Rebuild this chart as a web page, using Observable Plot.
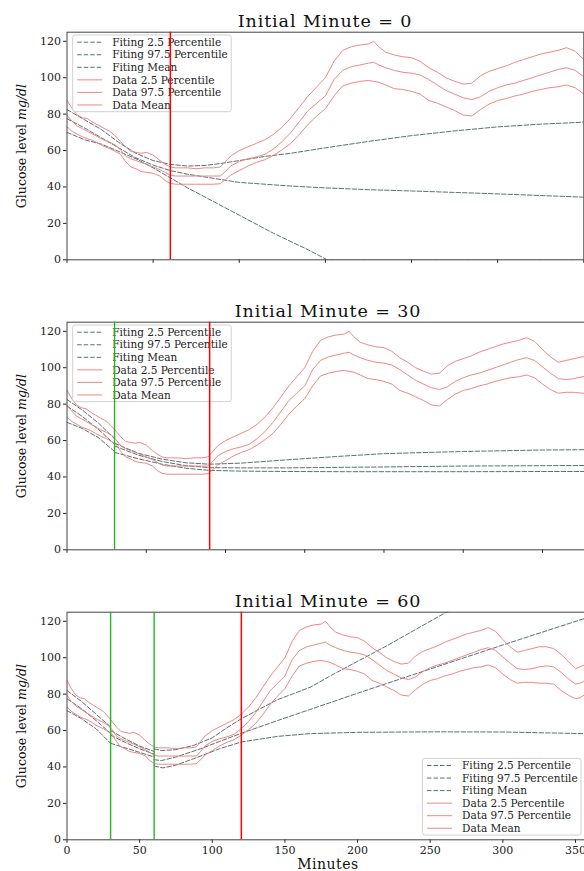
<!DOCTYPE html>
<html><head><meta charset="utf-8">
<script src="https://cdn.jsdelivr.net/npm/d3@7"></script>
<script src="https://cdn.jsdelivr.net/npm/@observablehq/plot@0.6"></script>
<style>
body{margin:0;background:#fff;overflow:hidden;}
.panel{width:584px;overflow:hidden;position:relative;}
svg{display:block;}
</style></head><body><div id="root"></div>
<script>
// ---- measured data (minutes, glucose mg/dl) ----
const minutes = [0,3,6,9,12,15,18,21,25,28,31,34,37,40,43,46,50,54,57,60,63,66,70,75,80,85,89,92,95,100,105,110,115,120,125,130,135,140,145,150,155,160,165,170,175,178,181,185,190,195,200,205,210,215,220,225,230,235,240,245,250,255,260,265,270,275,280,285,290,295,300,305,310,315,320,325,330,335,340,345,350,353,356];
const dataHi = [87.6,83,79.5,78,77.5,75.5,74,72.5,70.5,68,65,62,59.5,59,58.5,59,57.5,54.5,52.5,51,50.5,50.5,50.5,50,50.5,50.5,51,54,57,60,62,64,66,69,73,78,84,90,95,100,109,115,117,118,118.5,120,117,114,112.5,111.5,111,109,105.5,103,100,98,96.5,97,101,103.5,105,106.5,108.5,110,111.5,113,114,115,116.5,114.5,110,106,103,104,105,106,106,105,102,98,94,95,96];
const dataMean = [79.5,76,73.5,72,70.5,69,67.5,66,64.5,63,60.5,57,55.5,54.5,53.5,52.5,51,49.5,48,46.5,46,46,46,46,46,46,46,48.5,51.5,54,55.5,56.5,58,61,65,70,76,82,86,90,99,104,106,107,108,108.5,107,105.5,104,103,102.5,101.5,99,96,93,91,89,88,89.5,92.5,94.5,96,97,98.5,100,101.5,103,104.5,105.5,104,100.5,97,94,93.5,94,95,95.5,95,92,88.5,85.5,86,87];
const dataLo = [73,70.5,69,67.5,66.5,65.5,64,62.5,61,59.5,58,54,51,50,48.5,48,47.5,46,43.5,42,41.5,41.5,41.5,41.5,41.5,41.5,41.8,44,46.5,49,51.5,53.5,55,57.5,60.5,64,69,74.5,79,83,90,95.5,97,98,98.5,98,97.5,96,94,93.5,92.5,91,87.5,86,84,82,79.5,79,82.5,85.5,87.5,88.5,90,91,92.5,93.5,94.5,95,96,94.5,91,88,86,86.5,86.5,86,86,85.5,82,79.5,77.5,78,79.5];

// Panel 1 fits (initial minute 0)
const p1FitMin = [0,10,20,30,40,50,60,70,80,90,100,115,130,150,175,200,225,250,275,300];
const p1FitHi = [82.5,77,71.5,64.5,58.5,54.5,52.4,51.5,51.8,53,54.5,56.8,58.5,61.5,65,68.2,70.8,73,74.5,75.6];
const p1FitMean = [77.5,72.5,67,61.5,56,52,49,47,45.5,44,42.5,41.5,40.5,39.5,38.5,37.8,37,36.2,35.3,34.4];
const p1FitLoMin = [0,10,20,30,40,50,60,70,80,90,100,110,120,130,140,151,300];
const p1FitLo = [70,66,63.5,59.5,55.5,50.5,45,39.5,34.5,29.5,24.5,19.5,14.5,10,5.5,0,0];

// Panel 2 fits (initial minute 30)
const p2AMin = [0,10,20,30];
const p2AHi = [82.5,76.5,69.5,61];
const p2AMean = [79,73,66,58];
const p2ALo = [70,66.5,61.5,54];
const p2BMin = [30,45,60,75,90,110,140,175,200,250,300,330];
const p2BHi = [58.5,53,49.8,47.8,47,47.6,49.5,51.5,52.8,54,54.8,55];
const p2BMean = [57,52,48.5,46.2,45.1,45,45,45.3,45.5,46,46.2,46.3];
const p2BLo = [53.5,50,47,44.8,43.6,43.2,43,42.9,42.9,42.9,43,43];

// Panel 3 fits (initial minute 60)
const p3AMin = [0,10,20,30];
const p3AHi = [82,76,69,62];
const p3AMean = [77.5,72,65.5,58.5];
const p3ALo = [71,66.5,61,53];
const p3BMin = [30,40,50,60];
const p3BHi = [60,55.5,51.5,48.5];
const p3BMean = [57.5,53.5,50,47];
const p3BLo = [53,50.5,48,45.5];
const p3CHiMin = [60,65,75,87,100,110,120,133,145,156,168,180,200,220,240,260,270];
const p3CHi = [50,49,49.5,51.8,56,61.5,66.5,72,77,80.3,84,89.5,98,106.5,115.5,124.5,129];
const p3CMeanMin = [60,65,75,92,105,120,145,167,200,250,300,356];
const p3CMean = [44,43.5,45.5,50,54,58.5,65.5,71.5,80.5,93.8,107,121.5];
const p3CLoMin = [60,66,75,87,105,120,145,167,200,250,300,356];
const p3CLo = [40.5,39.5,41,44.5,50,53.7,56.8,58.3,59,59.3,59.2,58.3];

const yTicks = [0,20,40,60,80,100,120];
const legendLabels = ["Fiting 2.5 Percentile","Fiting 97.5 Percentile","Fiting Mean","Data 2.5 Percentile","Data 97.5 Percentile","Data Mean"];

const FIT = "#2f4f4f", DATA = "#f08080";
const zip = (ms, vs) => ms.map((m, i) => ({m, v: vs[i]}));

function fitLine(ms, vs) {
  return Plot.line(zip(ms, vs), {x: "m", y: "v", stroke: FIT, strokeOpacity: 0.8, strokeWidth: 1, strokeDasharray: "4.5,2", clip: true});
}
function dataLine(vs) {
  return Plot.line(zip(minutes, vs), {x: "m", y: "v", stroke: DATA, strokeOpacity: 0.95, strokeWidth: 1, clip: true});
}

function makePanel(cfg) {
  const div = document.createElement("div");
  div.className = "panel";
  div.style.height = cfg.height + "px";
  document.getElementById("root").appendChild(div);
  const xt = d3.range(0, cfg.xmax + 1, 50);
  const mb = cfg.height - 259.3;
  const svg = Plot.plot({
    width: cfg.width, height: cfg.height,
    marginLeft: 66.5, marginRight: cfg.marginRight, marginTop: 31.7, marginBottom: mb,
    style: {fontFamily: "DejaVu Serif", fontSize: "11px", color: "#222", background: "white", maxWidth: "none", overflow: "visible"},
    x: {domain: [0, cfg.xmax]},
    y: {domain: [0, 125]},
    marks: [
      Plot.axisY(yTicks, {tickSize: 3.5, tickPadding: 2.5, label: null, fontSize: 11}),
      Plot.axisX(xt, {tickSize: 3.5, tickPadding: 3, label: null, fontSize: 11, tickFormat: cfg.xLabels ? (d => d) : (() => "")}),
      ...cfg.fits.map(f => fitLine(f[0], f[1])),
      dataLine(dataLo), dataLine(dataHi), dataLine(dataMean),
      Plot.ruleX(cfg.greens, {stroke: "#22b522", strokeWidth: 1.4}),
      Plot.ruleX([cfg.red], {stroke: "#ff0000", strokeWidth: 1.5}),
      Plot.frame({stroke: "#444", strokeWidth: 1})
    ]
  });
  div.appendChild(svg);
  const s = d3.select(svg);
  // title
  s.append("text").attr("x", cfg.titleX).attr("y", 26.5).attr("text-anchor", "middle")
    .attr("font-size", 17.5).attr("letter-spacing", "0.9px").attr("fill", "#111").text(cfg.title);
  // x label
  if (cfg.xLabels) {
    s.append("text").attr("x", cfg.titleX).attr("y", cfg.height - 1.8).attr("text-anchor", "middle")
      .attr("font-size", 14).attr("letter-spacing", "0.5px").attr("fill", "#111").text("Minutes");
  }
  // y label
  const yl = s.append("text").attr("transform", "translate(25.5,146) rotate(-90)")
    .attr("text-anchor", "middle").attr("font-size", 12.5).attr("fill", "#111");
  yl.append("tspan").text("Glucose level ");
  yl.append("tspan").attr("font-style", "italic").text("mg/dl");
  // legend
  const [x0, y0] = cfg.legend;
  const g = s.append("g").attr("text-anchor", "start");
  g.append("rect").attr("x", x0).attr("y", y0).attr("width", 158.5).attr("height", 76.7).attr("rx", 2.5)
    .attr("fill", "white").attr("fill-opacity", 0.8).attr("stroke", "#d0d0d0").attr("stroke-width", 1);
  legendLabels.forEach((lab, i) => {
    const cy = y0 + 7.2 + i * 12.55;
    const isFit = i < 3;
    g.append("line").attr("x1", x0 + 4.5).attr("x2", x0 + 29.5).attr("y1", cy).attr("y2", cy)
      .attr("stroke", isFit ? FIT : DATA).attr("stroke-opacity", isFit ? 0.8 : 0.95)
      .attr("stroke-dasharray", isFit ? "4.5,2" : null).attr("stroke-width", 1);
    g.append("text").attr("x", x0 + 39.5).attr("y", cy + 3.7).attr("text-anchor", "start")
      .attr("font-size", 10.5).attr("fill", "#222").text(lab);
  });
  svg.querySelectorAll('g[aria-label="rule"]').forEach(n => svg.appendChild(n));
}

makePanel({title: "Initial Minute = 0", titleX: 325, xmax: 300, width: 584, marginRight: 0.7, height: 290,
  fits: [[p1FitMin, p1FitHi], [p1FitMin, p1FitMean], [p1FitLoMin, p1FitLo]],
  greens: [], red: 60, xLabels: false, legend: [72.7, 35]});
makePanel({title: "Initial Minute = 30", titleX: 328, xmax: 330, width: 590, marginRight: 0.5, height: 290,
  fits: [[p2AMin, p2AHi], [p2AMin, p2AMean], [p2AMin, p2ALo], [p2BMin, p2BHi], [p2BMin, p2BMean], [p2BMin, p2BLo]],
  greens: [30], red: 90, xLabels: false, legend: [72.7, 35]});
makePanel({title: "Initial Minute = 60", titleX: 328, xmax: 360, width: 590, marginRight: 0.5, height: 291,
  fits: [[p3AMin, p3AHi], [p3AMin, p3AMean], [p3AMin, p3ALo], [p3BMin, p3BHi], [p3BMin, p3BMean], [p3BMin, p3BLo],
         [p3CHiMin, p3CHi], [p3CMeanMin, p3CMean], [p3CLoMin, p3CLo]],
  greens: [30, 60], red: 120, xLabels: true, legend: [422.5, 178.3]});
</script></body></html>
